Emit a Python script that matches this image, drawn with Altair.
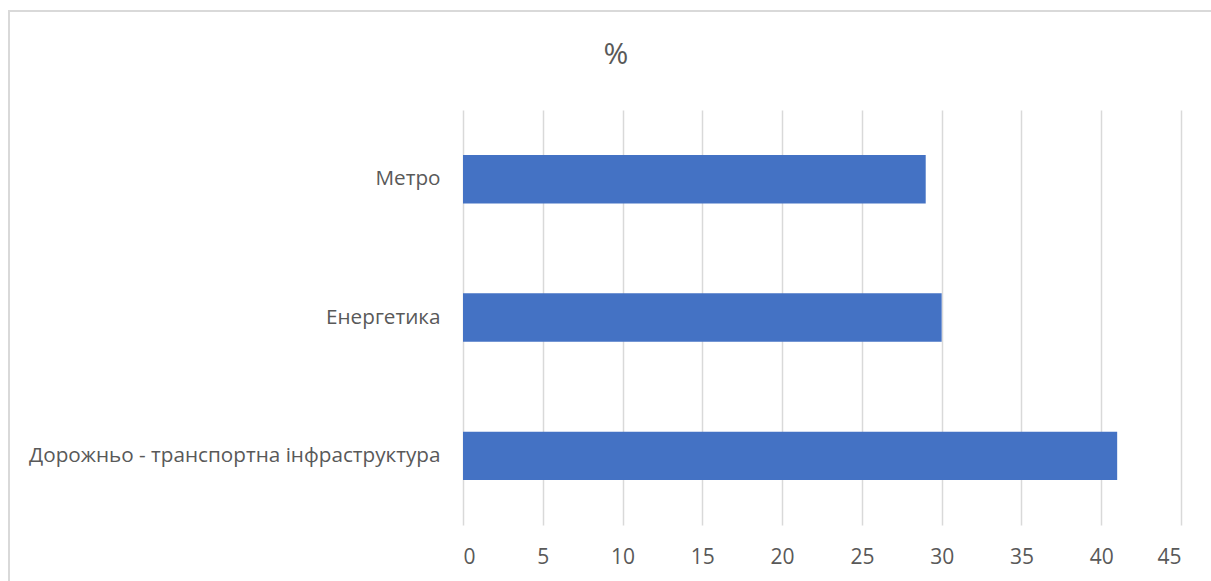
import altair as alt
import pandas as pd

categories = ["Метро", "Енергетика", "Дорожньо - транспортна інфраструктура"]
values = [29, 30, 41]
x_ticks = [0, 5, 10, 15, 20, 25, 30, 35, 40, 45]
title_text = ["%"]

df = pd.DataFrame({"cat": categories, "val": values})
FONT = "Open Sans"

frame = alt.Chart(pd.DataFrame({"a": [0]})).mark_rect(
    fill=None, fillOpacity=0, stroke="#d9d9d9", strokeWidth=2
).encode(
    x=alt.value(-454), x2=alt.value(770), y=alt.value(-99), y2=alt.value(495)
)

title = alt.Chart(pd.DataFrame({"t": title_text})).mark_text(
    fontSize=30, color="#595959", font=FONT, baseline="middle", align="center"
).encode(text="t:N", x=alt.value(153), y=alt.value(-55))

bars = alt.Chart(df).mark_bar(color="#4472C4").encode(
    x=alt.X("val:Q", scale=alt.Scale(domain=[0, 45], nice=False),
            axis=alt.Axis(values=x_ticks, title=None, grid=True, gridColor="#d9d9d9",
                          gridWidth=1.5, domain=False, ticks=False, labelFontSize=21,
                          labelColor="#595959", labelFont=FONT, labelPadding=21)),
    y=alt.Y("cat:N", sort=categories,
            scale=alt.Scale(paddingInner=0.65, paddingOuter=0.325),
            axis=alt.Axis(title=None, domain=False, ticks=False, labelFontSize=20.7,
                          labelColor="#595959", labelFont=FONT, labelPadding=23,
                          labelLimit=500)),
)

chart = alt.layer(frame, title, bars).properties(
    width=718, height=415,
    autosize=alt.AutoSizeParams(type="none"),
    padding={"left": 463, "top": 110, "right": 30, "bottom": 56},
).configure_view(stroke=None)

chart.save("out.html", embed_options={"renderer": "svg", "actions": False})
